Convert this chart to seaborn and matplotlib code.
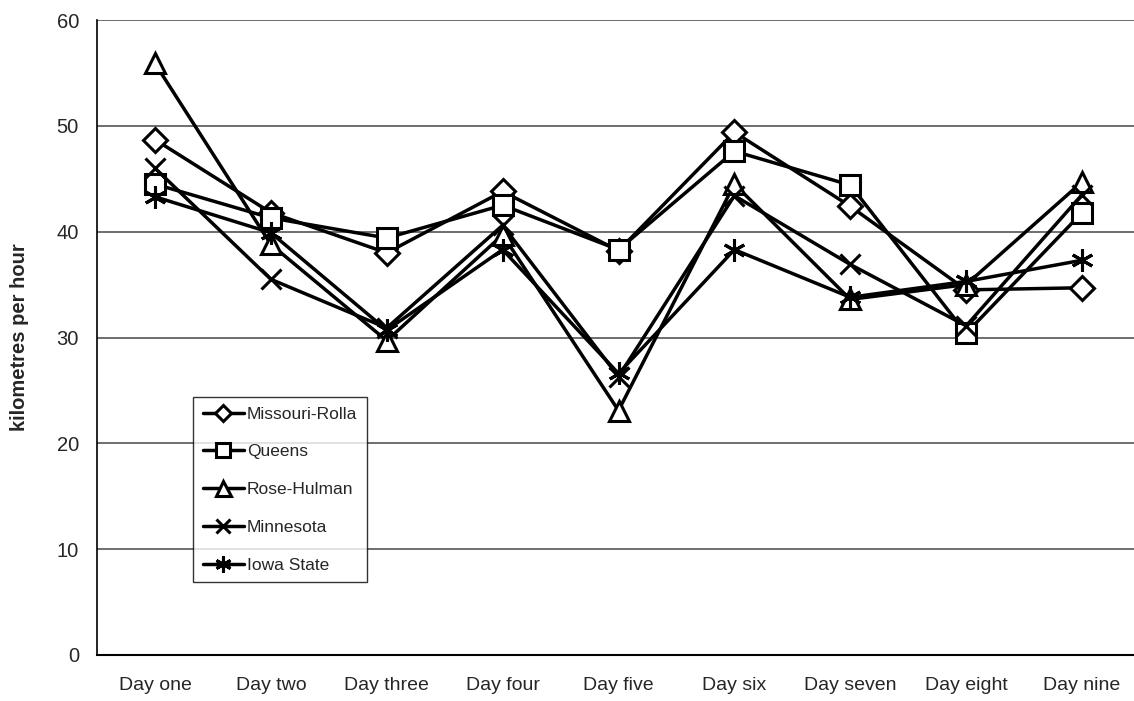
import matplotlib
matplotlib.use("Agg")
import matplotlib.pyplot as plt
import seaborn as sns
import pandas as pd
from matplotlib.lines import Line2D

days = ["Day one", "Day two", "Day three", "Day four", "Day five",
        "Day six", "Day seven", "Day eight", "Day nine"]
missouri_rolla = [48.7, 41.8, 38.0, 43.8, 38.2, 49.4, 42.4, 34.5, 34.7]
queens = [44.5, 41.3, 39.4, 42.5, 38.3, 47.6, 44.4, 30.4, 41.8]
rose_hulman = [55.9, 38.8, 29.7, 39.7, 23.1, 44.5, 33.6, 35.0, 44.7]
minnesota = [46.0, 35.5, 30.9, 40.6, 26.3, 43.4, 36.9, 31.1, 43.5]
iowa_state = [43.3, 39.9, 30.7, 38.3, 26.6, 38.3, 33.8, 35.3, 37.3]
series_names = ["Missouri-Rolla", "Queens", "Rose-Hulman", "Minnesota", "Iowa State"]
yticks = [0, 10, 20, 30, 40, 50, 60]

series = [missouri_rolla, queens, rose_hulman, minnesota, iowa_state]
markers = ["D", "s", "^", "x", (6, 2, 0)]
msizes = [12, 14, 15, 14, 16]

sns.set_style("white")
plt.rcParams["font.family"] = ["Liberation Sans", "DejaVu Sans"]

fig = plt.figure(figsize=(11.34, 7.01), dpi=100)
ax = fig.add_axes([97 / 1134, 46 / 701, 1043 / 1134, 635 / 701])

frames = []
for name, vals in zip(series_names, series):
    frames.append(pd.DataFrame({"day": days, "kmh": vals, "team": name}))
df = pd.concat(frames, ignore_index=True)

handles = []
for name, mk, ms in zip(series_names, markers, msizes):
    sub = df[df["team"] == name]
    sns.lineplot(data=sub, x="day", y="kmh", ax=ax, color="black", lw=2.5,
                 marker=mk, markersize=ms, markerfacecolor="white",
                 markeredgecolor="black", markeredgewidth=2.2,
                 sort=False, legend=False, zorder=3)
    handles.append(Line2D([0], [0], color="black", lw=2.5, marker=mk,
                          markersize=ms * 0.72, markerfacecolor="white",
                          markeredgecolor="black", markeredgewidth=2.2))

ax.set_ylim(0, 60)
ax.set_xlim(-0.5, 8.5)
ax.set_yticks(yticks)
ax.set_yticklabels([str(v) for v in yticks], fontsize=14.5)
ax.set_xticks(range(len(days)))
ax.set_xticklabels(days, fontsize=14)
ax.set_xticks([i + 0.5 for i in range(-1, 9)], minor=True)
ax.tick_params(axis="x", which="major", length=0, pad=16)
ax.tick_params(axis="x", which="minor", length=7, width=1, direction="out", color="black")
ax.tick_params(axis="y", which="major", length=8, width=1, direction="out", color="black", pad=5)
ax.set_xlabel("")
ax.set_ylabel("kilometres per hour", fontsize=14.5, fontweight="bold")
ax.yaxis.set_label_coords(-68 / 1043, 0.5)

for v in yticks[1:]:
    ax.axhline(v, color="#555555", lw=1.2, zorder=1)

for side in ["top", "right"]:
    ax.spines[side].set_visible(False)
ax.spines["left"].set_color("black")
ax.spines["bottom"].set_color("black")
ax.spines["left"].set_linewidth(1.2)
ax.spines["bottom"].set_linewidth(1.5)

leg = ax.legend(handles, series_names, loc="upper left",
                bbox_to_anchor=(193 / 1134, 1 - 397 / 701),
                bbox_transform=fig.transFigure, fontsize=12.5,
                frameon=True, fancybox=False, handlelength=2.4,
                handletextpad=0.15, labelspacing=1.3, borderpad=0.55,
                borderaxespad=0)
leg.get_frame().set_edgecolor("black")
leg.get_frame().set_linewidth(1.0)
leg.set_zorder(5)

fig.savefig("out.png", dpi=100)
